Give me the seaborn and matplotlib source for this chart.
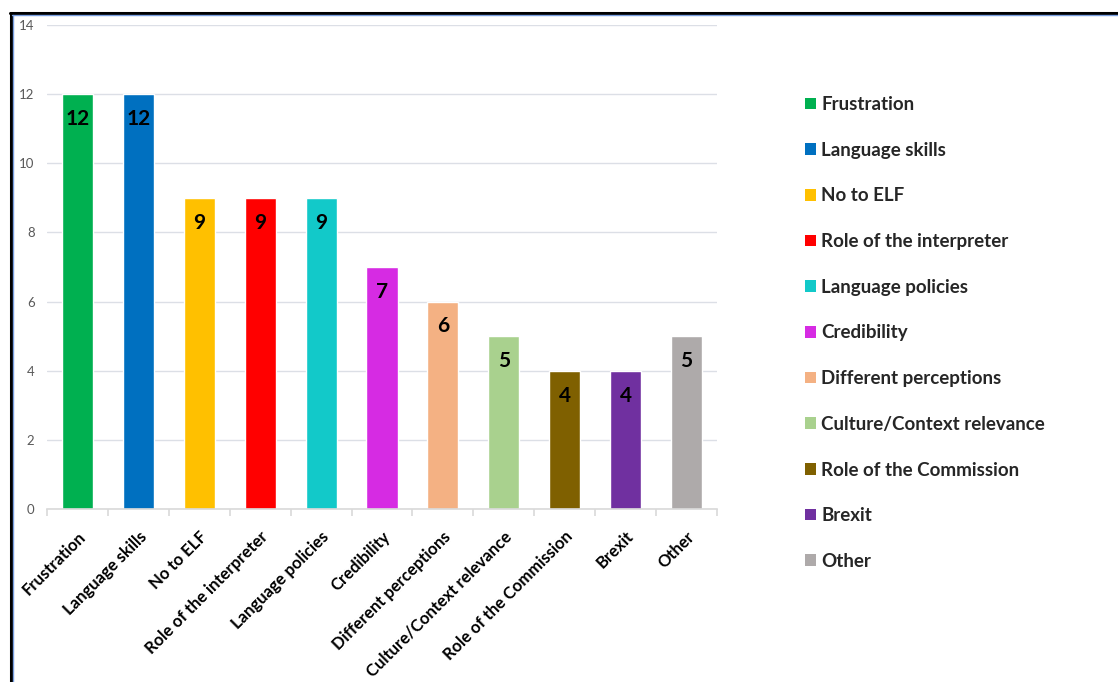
import matplotlib
matplotlib.use("Agg")
import matplotlib.pyplot as plt
from matplotlib.patches import Patch
from matplotlib.lines import Line2D
import seaborn as sns
import pandas as pd

categories = [
    "Frustration", "Language skills", "No to ELF", "Role of the interpreter",
    "Language policies", "Credibility", "Different perceptions",
    "Culture/Context relevance", "Role of the Commission", "Brexit", "Other",
]
counts = [12, 12, 9, 9, 9, 7, 6, 5, 4, 4, 5]
colors = [
    "#00B050", "#0070C0", "#FFC000", "#FF0000", "#12C9C9", "#D62BE3",
    "#F4B183", "#A9D18E", "#7F6000", "#7030A0", "#AEAAAA",
]
y_ticks = [0, 2, 4, 6, 8, 10, 12, 14]

sns.set_theme(style="white")
plt.rcParams["font.family"] = ["Lato", "DejaVu Sans"]

df = pd.DataFrame({"theme": categories, "count": counts})

W, H = 1118, 682
fig = plt.figure(figsize=(W / 100, H / 100), dpi=100)
ax = fig.add_axes([47 / W, (H - 509) / H, (717 - 47) / W, (509 - 25) / H])

sns.barplot(data=df, x="theme", y="count", hue="theme", palette=colors,
            order=categories, hue_order=categories, dodge=False,
            width=0.51, legend=False, ax=ax, saturation=1)

ax.set_ylim(0, 14)
ax.set_xlim(-0.5, len(categories) - 0.5)
ax.set_yticks(y_ticks)
ax.set_yticklabels([str(t) for t in y_ticks], fontsize=9.5, color="#595959")
ax.grid(axis="y", color="#DCDFE6", linewidth=1)
ax.set_axisbelow(True)
for s in ["top", "right", "left"]:
    ax.spines[s].set_visible(False)
ax.spines["bottom"].set_color("#D9D9D9")
ax.spines["bottom"].set_linewidth(1.2)
ax.set_xlabel("")
ax.set_ylabel("")
ax.tick_params(axis="y", length=0, pad=9)

ax.set_xticks(range(len(categories)))
ax.set_xticklabels(categories, rotation=45, ha="right", rotation_mode="anchor",
                   fontsize=12, fontweight="bold", color="black")
ax.tick_params(axis="x", which="major", length=0, pad=14)
ax.set_xticks([i - 0.5 for i in range(len(categories) + 1)], minor=True)
ax.tick_params(axis="x", which="minor", length=5, color="#D9D9D9", width=1.2,
               bottom=True)

for i, v in enumerate(counts):
    ax.text(i, v - 0.72, str(v), ha="center", va="center",
            fontsize=15, fontweight="bold", color="black")

handles = [Patch(facecolor=c, edgecolor="none") for c in colors]
fig.legend(handles, categories, loc="upper left",
           bbox_to_anchor=(805 / W, 1 - 96 / H), frameon=False,
           prop={"weight": "bold", "size": 13.5},
           handlelength=0.57, handleheight=0.57, handletextpad=0.3,
           labelspacing=1.53, borderpad=0, borderaxespad=0)

# frame edges along the top and left
fig.add_artist(Line2D([10 / W, 1], [1 - 13 / H, 1 - 13 / H], color="black",
                      linewidth=2.2, transform=fig.transFigure))
fig.add_artist(Line2D([11 / W, 11 / W], [0, 1 - 13 / H], color="black",
                      linewidth=2.2, transform=fig.transFigure))
fig.add_artist(Line2D([12 / W, 1], [1 - 15 / H, 1 - 15 / H], color="#7A9FE0",
                      linewidth=1.0, transform=fig.transFigure))
fig.add_artist(Line2D([13 / W, 13 / W], [0, 1 - 15 / H], color="#7A9FE0",
                      linewidth=1.0, transform=fig.transFigure))

fig.savefig("out.png", dpi=100)
